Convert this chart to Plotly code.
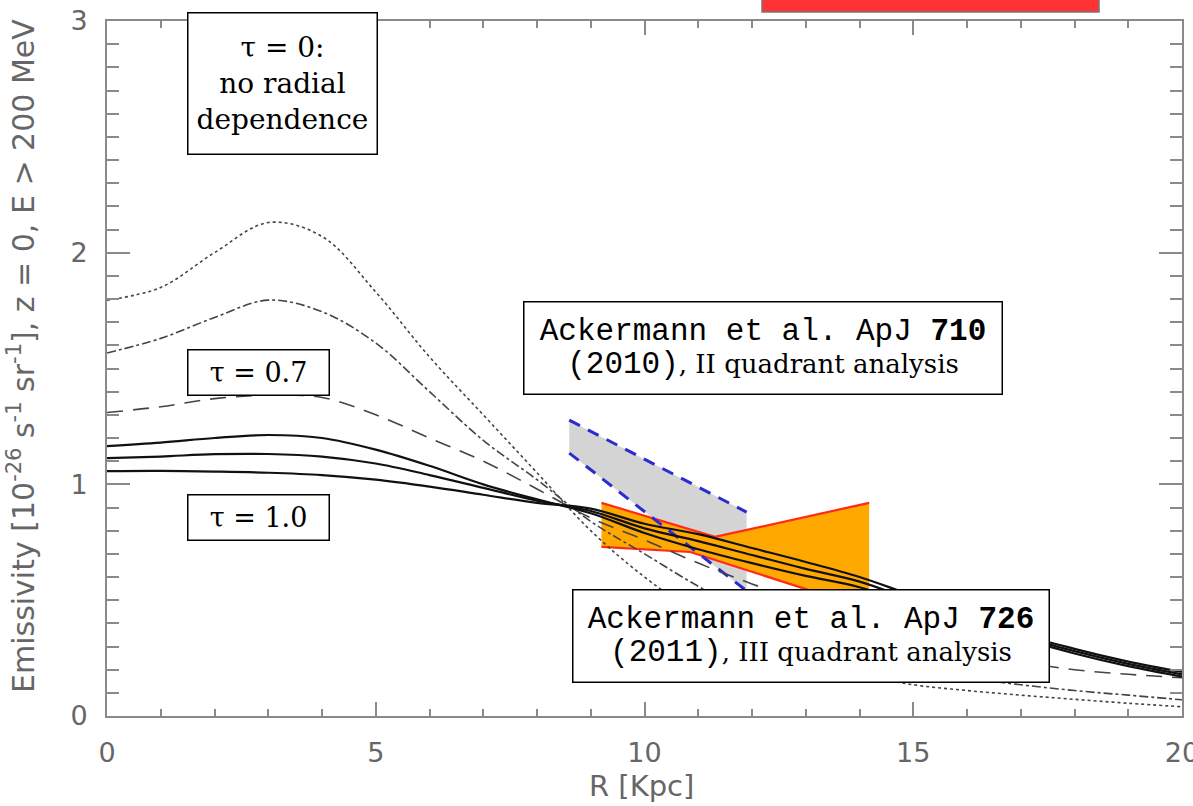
import plotly.graph_objects as go

# ---------------- data ----------------
R = [0, 1, 2, 3, 4, 5, 6, 7, 8, 9, 10, 11, 12, 13, 14, 15, 16, 17, 18, 19, 20]
emis_dotted = [1.795, 1.85, 2.00, 2.13, 2.07, 1.83, 1.55, 1.30, 1.05, 0.80, 0.60, 0.44, 0.32,
               0.24, 0.18, 0.135, 0.11, 0.09, 0.072, 0.055, 0.04]
emis_dashdot = [1.567, 1.63, 1.72, 1.795, 1.745, 1.61, 1.40, 1.19, 1.02, 0.84, 0.70, 0.56, 0.44,
                0.34, 0.27, 0.21, 0.165, 0.135, 0.11, 0.09, 0.07]
emis_dashed = [1.31, 1.335, 1.37, 1.385, 1.375, 1.30, 1.20, 1.10, 0.98, 0.855, 0.76, 0.66, 0.57,
               0.49, 0.42, 0.36, 0.30, 0.235, 0.20, 0.18, 0.165]
emis_solid_a = [1.165, 1.18, 1.20, 1.213, 1.20, 1.15, 1.08, 1.00, 0.935, 0.875, 0.79, 0.72, 0.66,
                0.605, 0.556, 0.48, 0.41, 0.335, 0.27, 0.215, 0.17]
emis_solid_b = [1.113, 1.12, 1.13, 1.131, 1.12, 1.09, 1.04, 0.985, 0.93, 0.885, 0.81, 0.755, 0.695,
                0.635, 0.58, 0.50, 0.43, 0.345, 0.28, 0.225, 0.18]
emis_solid_c = [1.057, 1.058, 1.055, 1.05, 1.04, 1.02, 0.99, 0.955, 0.92, 0.895, 0.83, 0.785, 0.725,
                0.665, 0.60, 0.52, 0.45, 0.355, 0.29, 0.235, 0.19]

# Ackermann et al. 2010 (II quadrant) band
band2010_R = [8.6, 11.9]
band2010_upper = [1.277, 0.88]
band2010_lower = [1.135, 0.54]

# Ackermann et al. 2011 (III quadrant) bow-tie
bow2011_upper_R = [9.2, 11.31, 14.18]
bow2011_upper_E = [0.92, 0.773, 0.92]
bow2011_lower_R = [9.2, 10.85, 14.18]
bow2011_lower_E = [0.73, 0.708, 0.46]

x_ticks = [0, 5, 10, 15, 20]
y_ticks = [0, 1, 2, 3]

# ---------------- geometry helpers (layout only) ----------------
W, H = 1193, 806
L, Rm, T, B = 107, 11, 21, 90
PW, PH = W - L - Rm, H - T - B


def px_x(px):
    return (px - L) / PW


def px_y(py):
    return (H - B - py) / PH


fig = go.Figure()

# grey band
fig.add_trace(go.Scatter(
    x=band2010_R + band2010_R[::-1],
    y=band2010_upper + band2010_lower[::-1],
    fill="toself", fillcolor="#d4d4d4", mode="none", hoverinfo="skip", showlegend=False))

# orange bow-tie
fig.add_trace(go.Scatter(
    x=bow2011_upper_R + bow2011_lower_R[::-1],
    y=bow2011_upper_E + bow2011_lower_E[::-1],
    fill="toself", fillcolor="#ffa800", mode="none", hoverinfo="skip", showlegend=False))
for xs, ys in [(bow2011_upper_R, bow2011_upper_E), (bow2011_lower_R, bow2011_lower_E)]:
    fig.add_trace(go.Scatter(x=xs, y=ys, mode="lines",
                             line=dict(color="#ff2a1a", width=2.2),
                             hoverinfo="skip", showlegend=False))

# blue dashed edges of grey band
for ys in (band2010_upper, band2010_lower):
    fig.add_trace(go.Scatter(x=band2010_R, y=ys, mode="lines",
                             line=dict(color="#2b2bd0", width=3, dash="12px,9px"),
                             hoverinfo="skip", showlegend=False))

# model curves
curve_specs = [
    (emis_dotted, "dot", "#444444", 1.6),
    (emis_dashdot, "dashdot", "#444444", 1.6),
    (emis_dashed, "16px,10px", "#444444", 1.6),
    (emis_solid_a, "solid", "#111111", 2.2),
    (emis_solid_b, "solid", "#111111", 2.2),
    (emis_solid_c, "solid", "#111111", 2.2),
]
for ys, dash, col, w in curve_specs:
    fig.add_trace(go.Scatter(x=R, y=ys, mode="lines",
                             line=dict(color=col, width=w, dash=dash, shape="spline", smoothing=1.0),
                             hoverinfo="skip", showlegend=False))

tick_font = dict(family="DejaVu Sans", size=27, color="#666666")
axis_common = dict(
    showline=True, linecolor="#8a8a8a", linewidth=2, mirror="ticks",
    ticks="inside", tickcolor="#8a8a8a", tickwidth=1.5,
    showgrid=False, zeroline=False, tickfont=tick_font,
    ticklabeloverflow="allow", automargin=False,
)

fig.update_xaxes(range=[0, 20], tickvals=x_ticks, ticklen=14,
                 minor=dict(dtick=1, ticklen=7, ticks="inside", tickcolor="#8a8a8a", tickwidth=1.5),
                 ticklabelstandoff=12, **axis_common)
fig.update_yaxes(range=[0, 3], tickvals=y_ticks, ticklen=23,
                 minor=dict(dtick=0.1, ticklen=12, ticks="inside", tickcolor="#8a8a8a", tickwidth=1.5),
                 ticklabelstandoff=12, **axis_common)

serif = "DejaVu Serif"
mono = "Liberation Mono"


def box(text, x0, y0, x1, y1, size=26):
    return dict(
        xref="paper", yref="paper",
        x=px_x((x0 + x1) / 2), y=px_y((y0 + y1) / 2),
        xanchor="center", yanchor="middle",
        width=x1 - x0 - 4, height=y1 - y0 - 4,
        text=text, showarrow=False, align="center", valign="middle",
        font=dict(family=serif, size=size, color="black"),
        bgcolor="white", bordercolor="black", borderwidth=1.5, borderpad=0,
    )


ms = f"font-family:{mono};font-size:31px"
annotations = [
    box("τ = 0:<br>no radial<br>dependence", 186, 12, 378, 156, size=28),
    box("τ = 0.7", 186, 348, 330, 396, size=27),
    box("τ = 1.0", 186, 493, 330, 541, size=27),
    box(f"<span style=\"{ms}\">Ackermann et al. ApJ <b>710</b></span><br>"
        f"<span style=\"{ms}\">(2010)</span>, II quadrant analysis", 522, 301, 1003, 396),
    box(f"<span style=\"{ms}\">Ackermann et al. ApJ <b>726</b></span><br>"
        f"<span style=\"{ms}\">(2011)</span>, III quadrant analysis", 571, 588, 1050, 683),
    dict(xref="paper", yref="paper", x=px_x(641), y=px_y(786),
         xanchor="center", yanchor="middle", showarrow=False,
         text="R [Kpc]", font=dict(family="DejaVu Sans", size=29, color="#666666")),
    dict(xref="paper", yref="paper", x=px_x(21), y=px_y(356),
         xanchor="center", yanchor="middle", showarrow=False, textangle=-90,
         text="Emissivity [10<sup>-26</sup> s<sup>-1</sup> sr<sup>-1</sup>], z = 0, E > 200 MeV",
         font=dict(family="DejaVu Sans", size=30, color="#666666")),
]

shapes = [
    dict(type="rect", xref="paper", yref="paper",
         x0=px_x(762), x1=px_x(1099), y0=px_y(12), y1=px_y(-10),
         fillcolor="#ff3333", line=dict(color="#777777", width=1.5), layer="above"),
]

fig.update_layout(
    width=W, height=H,
    margin=dict(l=L, r=Rm, t=T, b=B, autoexpand=False),
    paper_bgcolor="white", plot_bgcolor="white",
    annotations=annotations, shapes=shapes,
    showlegend=False,
)

fig.write_html("out.html")
